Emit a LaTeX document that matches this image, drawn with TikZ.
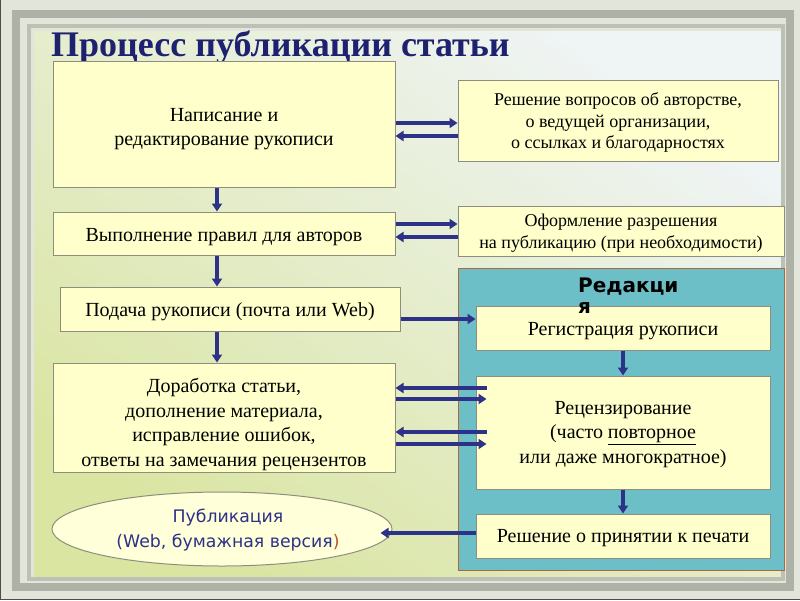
\documentclass[tikz,border=0pt]{standalone}
\usepackage{fontspec}
\setmainfont{Liberation Serif}
\newfontfamily\dvs{DejaVu Sans}
\usetikzlibrary{arrows.meta,shapes.geometric}
\definecolor{navy}{HTML}{2E3188}
\definecolor{titlec}{HTML}{1E2170}
\definecolor{boxfill}{HTML}{FFFFCC}
\definecolor{boxdraw}{HTML}{8E8E7E}
\definecolor{tealfill}{HTML}{6DBFC7}
\definecolor{tealdraw}{HTML}{B0683A}
\definecolor{bgouter}{HTML}{E2E5DA}
\definecolor{band1}{HTML}{AEB1A6}
\definecolor{band2}{HTML}{BDC0B5}
\definecolor{bglight}{HTML}{EFF4F5}
\definecolor{bggreen}{HTML}{DAE5A2}
\definecolor{brownp}{HTML}{C0502A}
\tikzset{
  box/.style={draw=boxdraw, fill=boxfill, line width=1pt, inner sep=0pt},
  txt/.style={inner sep=0pt, align=center, font=\fontsize{20}{24.5}\selectfont},
  stxt/.style={txt, font=\fontsize{18}{21.7}\selectfont},
  flow/.style={navy, line width=3.5pt, -{Triangle[length=8pt,width=10pt]}},
}
\begin{document}
\begin{tikzpicture}[x=1pt,y=-1pt]
\useasboundingbox (0,0) rectangle (800,600);
% background and frame
\fill[bgouter] (0,0) rectangle (800,600);
\shade[top color=bglight, bottom color=bggreen, shading angle=-35] (34,31) rectangle (781,577);
\draw[line width=8pt, band1] (16,14) rectangle (790,587);
\draw[line width=4pt, band2] (29,26) rectangle (783,579);
\draw[line width=1pt, black!70] (0.5,0) -- (0.5,599.5) -- (800,599.5);
% title
\node[anchor=base west, text=titlec, font=\fontsize{36}{40}\bfseries\selectfont, inner sep=0pt]
  (title) at (51,56) {Процесс публикации статьи};
% left column
\node[box, minimum width=342, minimum height=126] (b1) at (224,124) {};
\node[txt] (b1t) at ([yshift=-5pt]b1.center) {Написание и\\редактирование рукописи};
\node[box, minimum width=342, minimum height=43] (b3) at (224,233.5) {};
\node[txt] (b3t) at ([yshift=-4pt]b3.center) {Выполнение правил для авторов};
\node[box, minimum width=340, minimum height=44] (b5) at (230,309) {};
\node[txt] (b5t) at ([yshift=-3pt]b5.center) {Подача рукописи (почта или Web)};
\node[box, minimum width=342, minimum height=109] (b6) at (224,417.5) {};
\node[txt] (b6t) at ([yshift=-7pt]b6.center)
  {Доработка статьи,\\дополнение материала,\\исправление ошибок,\\ответы на замечания рецензентов};
\node[ellipse, draw=boxdraw, fill=boxfill!75!white, line width=1pt, minimum width=340, minimum height=74,
  inner sep=0pt] (ell) at (222,529) {};
\node[inner sep=0pt, align=center, text=navy, font=\dvs\fontsize{17.3}{25}\selectfont] (ellt)
  at ([xshift=6pt,yshift=-1pt]ell.center) {Публикация\\(Web, бумажная версия\textcolor{brownp}{)}};
% right column
\node[box, minimum width=320, minimum height=81] (b2) at (618,120.5) {};
\node[stxt] (b2t) at ([yshift=-2pt]b2.center)
  {Решение вопросов об авторстве,\\о ведущей организации,\\о ссылках и благодарностях};
\node[box, minimum width=326, minimum height=50] (b4) at (621,231) {};
\node[stxt] (b4t) at ([yshift=-2pt]b4.center) {Оформление разрешения\\на публикацию (при необходимости)};
\node[draw=tealdraw, fill=tealfill, line width=1pt, minimum width=326, minimum height=302, inner sep=0pt]
  (red) at (621,419) {};
\node[box, minimum width=294, minimum height=44] (reg) at (623,328) {};
\node[txt] (regt) at ([yshift=-3pt]reg.center) {Регистрация рукописи};
\node[anchor=base west, align=left, inner sep=0pt, font=\dvs\bfseries\fontsize{20}{21}\selectfont]
  (redt) at (578,313) {Редакци\\я};
\node[box, minimum width=294, minimum height=113] (rev) at (623,432.5) {};
\node[txt] (revt) at ([yshift=-2pt]rev.center)
  {Рецензирование\\(часто \underline{повторное}\\или даже многократное)};
\node[box, minimum width=294, minimum height=44] (dec) at (623,536) {};
\node[txt] (dect) at ([yshift=-2pt]dec.center) {Решение о принятии к печати};
% connectors
\draw[flow] (b1.east |- 0,123) -- (b2.west |- 0,123);
\draw[flow] (b2.west |- 0,136) -- (b1.east |- 0,136);
\draw[flow] (b3.east |- 0,224) -- (b4.west |- 0,224);
\draw[flow] (b4.west |- 0,237) -- (b3.east |- 0,237);
\draw[flow] (217,0 |- b1.south) -- (217,0 |- b3.north);
\draw[flow] (217,0 |- b3.south) -- (217,0 |- b5.north);
\draw[flow] (217,0 |- b5.south) -- (217,0 |- b6.north);
\draw[flow] (b5.east |- 0,319) -- (reg.west |- 0,319);
\draw[flow] ([xshift=11pt]rev.west |- 0,388) -- (b6.east |- 0,388);
\draw[flow] (b6.east |- 0,399) -- ([xshift=11pt]rev.west |- 0,399);
\draw[flow] ([xshift=11pt]rev.west |- 0,432) -- (b6.east |- 0,432);
\draw[flow] (b6.east |- 0,444) -- ([xshift=11pt]rev.west |- 0,444);
\draw[flow] (reg.south) -- (rev.north);
\draw[flow] (rev.south) -- (dec.north);
\draw[flow] (dec.west |- 0,533) -- ([xshift=-12pt]ell.east |- 0,533);
\end{tikzpicture}
\end{document}
